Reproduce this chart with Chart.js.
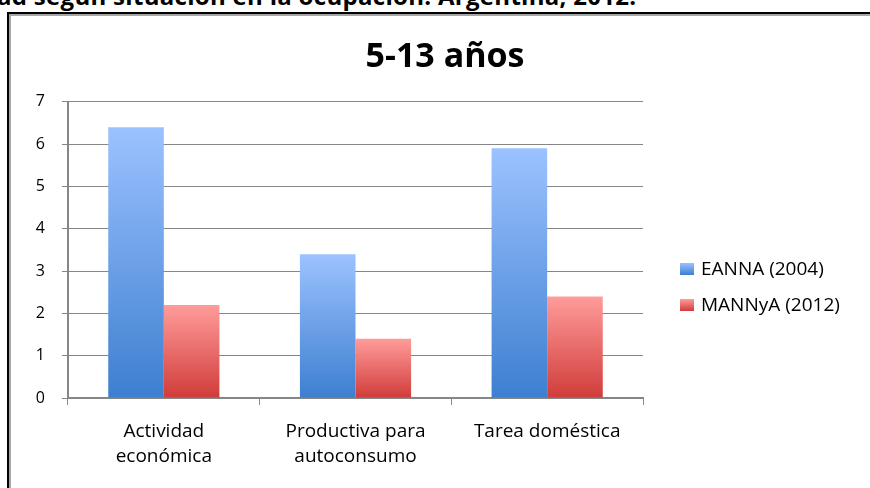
<!DOCTYPE html>
<html>
<head>
<meta charset="utf-8">
<script src="https://cdn.jsdelivr.net/npm/chart.js@4.4.1/dist/chart.umd.min.js"></script>
<style>
    html, body { margin: 0; padding: 0; width: 870px; height: 488px; overflow: hidden; background: #fff; }
    #arriba { position: absolute; left: -3px; top: -16px; font: bold 24px "Open Sans", sans-serif; line-height: 24px; letter-spacing: 0.3px; white-space: nowrap; color: #000; }
    #marco { position: absolute; left: 7px; top: 12px; width: 900px; height: 520px; border-left: 2px solid #000; border-top: 2px solid #000; }
    #marco2 { position: absolute; left: 0; top: 0; right: 0; bottom: 0; border-left: 2px solid #a6a6a6; border-top: 2px solid #a6a6a6; }
    #grafico { position: absolute; left: 0; top: 0; }
</style>
</head>
<body>
<div id="arriba">ad según situación en la ocupación. Argentina, 2012.</div>
<div id="marco"><div id="marco2"></div></div>
<canvas id="grafico" width="870" height="488"></canvas>
<script>
const categorias = [['Actividad', 'económica'], ['Productiva para', 'autoconsumo'], ['Tarea doméstica']];
const series = ['EANNA (2004)', 'MANNyA (2012)'];
const eanna = [6.4, 3.4, 5.9];
const mannya = [2.2, 1.4, 2.4];
const yMax = 7;
const yPaso = 1;

const colores = [
    { arriba: '#9cc2ff', abajo: '#3d7fd0' },
    { arriba: '#ff9c9a', abajo: '#d03c3a' }
];

const fuente = '"Open Sans", sans-serif';

// degradado vertical por barra, como en Excel
function degradado(col) {
    return ctx => {
        const chart = ctx.chart;
        const y = chart.scales.y;
        if (ctx.type !== 'data' || !y) return col.abajo;
        const v = ctx.dataset.data[ctx.dataIndex];
        const y0 = y.getPixelForValue(0);
        const y1 = y.getPixelForValue(v);
        if (!isFinite(y0) || !isFinite(y1) || y0 === y1) return col.abajo;
        const g = chart.ctx.createLinearGradient(0, y1, 0, y0);
        g.addColorStop(0, col.arriba);
        g.addColorStop(1, col.abajo);
        return g;
    };
}

const leyenda = {
    id: 'leyenda',
    afterDraw(chart) {
        const c = chart.ctx;
        const area = chart.chartArea;
        const x = area.right + 37;
        c.save();
        c.font = '19px ' + fuente;
        c.textBaseline = 'middle';
        chart.data.datasets.forEach((ds, i) => {
            const yc = 269 + i * 36;
            const g = c.createLinearGradient(0, yc - 6, 0, yc + 6);
            g.addColorStop(0, colores[i].arriba);
            g.addColorStop(1, colores[i].abajo);
            c.fillStyle = g;
            c.fillRect(x, yc - 6, 14, 12);
            c.fillStyle = '#000';
            c.fillText(ds.label, x + 21, yc + 1);
        });
        c.restore();
    }
};

const gris = '#868686';

new Chart(document.getElementById('grafico'), {
    type: 'bar',
    data: {
        labels: categorias,
        datasets: [
            { label: series[0], data: eanna, backgroundColor: degradado(colores[0]) },
            { label: series[1], data: mannya, backgroundColor: degradado(colores[1]) }
        ]
    },
    options: {
        responsive: false,
        animation: false,
        devicePixelRatio: 1,
        categoryPercentage: 0.58,
        barPercentage: 1,
        layout: { padding: { left: 20, top: 0, right: 0, bottom: 0 } },
        plugins: {
            legend: { display: false },
            tooltip: { enabled: false },
            title: {
                display: true,
                text: '5-13 años',
                color: '#000',
                font: { family: fuente, size: 34, weight: 'bold', lineHeight: 1.2 },
                padding: { top: 37, bottom: 24 }
            }
        },
        scales: {
            x: {
                grid: { drawOnChartArea: false, drawTicks: true, tickLength: 7, color: gris, offset: true },
                border: { color: gris, width: 2 },
                ticks: { color: '#000', padding: 15, maxRotation: 0, font: { family: fuente, size: 19, lineHeight: 1.27 } },
                afterFit: s => { s.height = 90; }
            },
            y: {
                min: 0,
                max: yMax,
                ticks: { stepSize: yPaso, color: '#000', padding: 17, font: { family: fuente, size: 16 } },
                grid: { color: gris, lineWidth: 1, tickLength: 6 },
                border: { color: gris, width: 2 },
                afterFit: s => { s.width = 48; }
            },
            hueco: {
                type: 'linear',
                position: 'right',
                display: true,
                grid: { display: false },
                border: { display: false },
                ticks: { display: false },
                afterFit: s => { s.width = 227; }
            }
        }
    },
    plugins: [leyenda]
});
</script>
</body>
</html>
